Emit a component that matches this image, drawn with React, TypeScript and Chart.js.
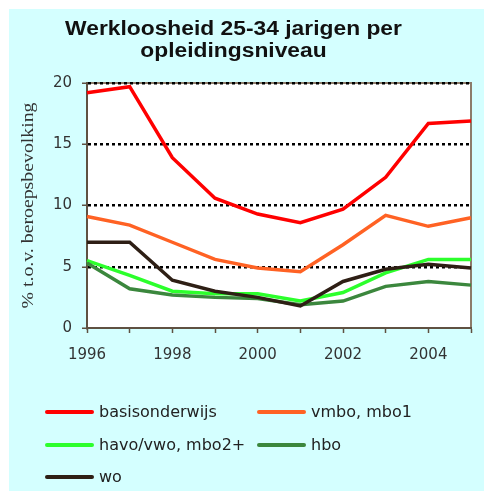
import React, { useEffect, useRef } from 'react';
import { Chart, registerables } from 'chart.js';

Chart.register(...registerables);

const years = ['1996', '1997', '1998', '1999', '2000', '2001', '2002', '2003', '2004', '2005'];
const xTickLabels = ['1996', '1998', '2000', '2002', '2004'];
const yMin = 0;
const yMax = 20;
const yStep = 5;

const titleLines = ['Werkloosheid 25-34 jarigen per', 'opleidingsniveau'];
const yAxisTitle = '% t.o.v. beroepsbevolking';

const seriesNames = ['basisonderwijs', 'vmbo, mbo1', 'havo/vwo, mbo2+', 'hbo', 'wo'];
const basisonderwijs = [19.2, 19.7, 13.9, 10.6, 9.3, 8.6, 9.7, 12.3, 16.7, 16.9];
const vmboMbo1 = [9.1, 8.4, 7.0, 5.6, 4.9, 4.6, 6.8, 9.2, 8.3, 9.0];
const havoVwoMbo2 = [5.5, 4.3, 3.0, 2.8, 2.8, 2.2, 2.9, 4.5, 5.6, 5.6];
const hbo = [5.3, 3.2, 2.7, 2.5, 2.4, 1.9, 2.2, 3.4, 3.8, 3.5];
const wo = [7.0, 7.0, 3.9, 3.0, 2.5, 1.8, 3.8, 4.8, 5.2, 4.9];
const seriesValues = [basisonderwijs, vmboMbo1, havoVwoMbo2, hbo, wo];
const seriesColors = ['#FF0000', '#FF6224', '#2CFF2C', '#3B873D', '#2E1F15'];

const PANEL_W = 475;
const PANEL_H = 482;
const AXIS_COLOR = '#5f5142';
const FRAME_COLOR = '#8c7c6a';

const decorPlugin = {
  id: 'decor',
  beforeDraw(chart: any) {
    const { ctx, chartArea: a } = chart;
    ctx.save();
    ctx.fillStyle = '#ffffff';
    ctx.fillRect(a.left, a.top, a.right - a.left, a.bottom - a.top);
    ctx.strokeStyle = FRAME_COLOR;
    ctx.lineWidth = 2;
    ctx.beginPath();
    ctx.moveTo(a.left, a.top);
    ctx.lineTo(a.right, a.top);
    ctx.lineTo(a.right, a.bottom);
    ctx.stroke();
    ctx.restore();
  },
  afterDraw(chart: any) {
    const { ctx, chartArea: a } = chart;
    ctx.save();
    ctx.fillStyle = '#111111';
    ctx.font = 'bold 19.5px "Liberation Sans", Arial, sans-serif';
    ctx.textAlign = 'center';
    ctx.textBaseline = 'alphabetic';
    titleLines.forEach((t, i) => {
      ctx.save();
      ctx.translate(224.5, 26 + i * 21.5);
      ctx.scale(1.17, 1);
      ctx.fillText(t, 0, 0);
      ctx.restore();
    });
    ctx.translate(20, (a.top + a.bottom) / 2);
    ctx.rotate(-Math.PI / 2);
    ctx.scale(1.2, 1);
    ctx.font = '16.5px "Liberation Serif", "Times New Roman", serif';
    ctx.fillStyle = '#333333';
    ctx.textAlign = 'center';
    ctx.textBaseline = 'middle';
    ctx.fillText(yAxisTitle, 0, 0);
    ctx.restore();
  },
};

function App() {
  const canvasRef = useRef<HTMLCanvasElement | null>(null);

  useEffect(() => {
    const canvas = canvasRef.current;
    if (!canvas) return;
    const n = seriesNames.length;
    const chart = new Chart(canvas, {
      type: 'line',
      data: {
        labels: years,
        datasets: seriesNames.map((name, i) => ({
          label: name,
          data: seriesValues[i],
          borderColor: seriesColors[i],
          backgroundColor: seriesColors[i],
          borderWidth: 3.5,
          pointRadius: 0,
          pointHoverRadius: 0,
          tension: 0,
          fill: false,
          order: n - i,
        })),
      },
      options: {
        animation: false,
        responsive: false,
        devicePixelRatio: 1,
        events: [],
        layout: { padding: { top: 74, left: 0, right: 12, bottom: 123 } },
        plugins: {
          legend: { display: false },
          title: { display: false },
          tooltip: { enabled: false },
        },
        scales: {
          x: {
            type: 'category',
            offset: false,
            position: 'bottom',
            afterFit: (s: any) => { s.height = 40; },
            grid: {
              display: true,
              drawOnChartArea: false,
              drawTicks: true,
              tickLength: 5,
              tickColor: AXIS_COLOR,
              tickWidth: 1.5,
            },
            border: { display: true, color: AXIS_COLOR, width: 2 },
            ticks: {
              autoSkip: false,
              maxRotation: 0,
              minRotation: 0,
              padding: 13,
              color: '#333333',
              font: { family: '"DejaVu Sans", sans-serif', size: 15 },
              callback: (_v: any, idx: number) => (xTickLabels.includes(years[idx]) ? years[idx] : ''),
            },
          },
          y: {
            type: 'linear',
            position: 'left',
            min: yMin,
            max: yMax,
            afterFit: (s: any) => { s.width = 78; },
            grid: {
              display: true,
              drawOnChartArea: true,
              drawTicks: true,
              tickLength: 5,
              tickColor: AXIS_COLOR,
              tickWidth: 1.5,
              lineWidth: 2.5,
              color: (c: any) => (c.tick && c.tick.value === yMin ? 'rgba(0,0,0,0)' : '#000000'),
            },
            border: { display: true, color: AXIS_COLOR, width: 2, dash: [3, 3] },
            ticks: {
              stepSize: yStep,
              padding: 10,
              color: '#333333',
              font: { family: '"DejaVu Sans", sans-serif', size: 15 },
            },
          },
        },
      } as any,
      plugins: [decorPlugin],
    });
    return () => chart.destroy();
  }, []);

  const legendRowTop = 403;
  const legendRowGap = 32.5;
  const legendColX = [36, 248];

  return (
    <div
      style={{
        position: 'absolute',
        left: 9,
        top: 9,
        width: PANEL_W,
        height: PANEL_H,
        background: '#D4FFFF',
        overflow: 'hidden',
      }}
    >
      <canvas
        ref={canvasRef}
        width={PANEL_W}
        height={PANEL_H}
        style={{ position: 'absolute', left: 0, top: 0, width: PANEL_W, height: PANEL_H }}
      />
      {seriesNames.map((name, i) => (
        <div
          key={name}
          style={{
            position: 'absolute',
            left: legendColX[i % 2],
            top: legendRowTop + Math.floor(i / 2) * legendRowGap - 11,
            height: 22,
            display: 'flex',
            alignItems: 'center',
            whiteSpace: 'nowrap',
          }}
        >
          <span
            style={{
              display: 'inline-block',
              width: 49,
              height: 4,
              borderRadius: 2,
              background: seriesColors[i],
            }}
          />
          <span
            style={{
              marginLeft: 5,
              fontFamily: '"DejaVu Sans", sans-serif',
              fontSize: 16,
              color: '#222222',
              lineHeight: '22px',
            }}
          >
            {name}
          </span>
        </div>
      ))}
    </div>
  );
}

export default App;
